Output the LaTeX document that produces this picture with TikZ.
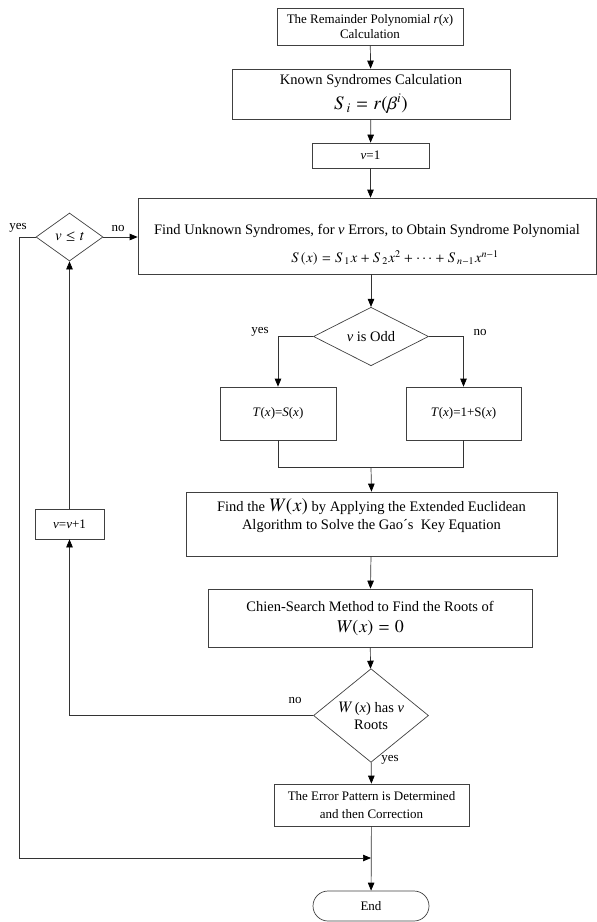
\documentclass[tikz,border=0pt]{standalone}
\usepackage{amsmath,txfonts}
\usepackage[no-math]{fontspec}
\setmainfont{Liberation Serif}
\usetikzlibrary{shapes.geometric,arrows.meta}

\newcommand{\smallfnt}{\fontsize{13}{15}\selectfont}
\newcommand{\bigfnt}{\fontsize{14.5}{18}\selectfont}

\begin{document}
\begin{tikzpicture}[x=1pt,y=-1pt,line width=0.7pt,
    box/.style={draw=black!75,rectangle,inner sep=2pt,align=center},
    decide/.style={draw=black!75,diamond,inner sep=0pt,align=center},
    lbl/.style={font=\smallfnt,inner sep=1pt},
    arr/.style={draw=black!80,-{Triangle[length=8pt,width=6.5pt,color=black]}},
    ln/.style={draw=black!80}]
  \useasboundingbox (0,0) rectangle (597,922);

  % main column
  \node[box,minimum width=186pt,minimum height=37pt,font=\smallfnt] (rem) at (370,26.5)
    {The Remainder Polynomial \textit{r}(\textit{x})\\Calculation};
  \node[box,minimum width=278pt,minimum height=50pt,font=\bigfnt] (known) at (371,94)
    {Known Syndromes Calculation\\[5pt]{\fontsize{19}{20}\selectfont $S_i=r(\beta^i)$}};
  \node[box,minimum width=117pt,minimum height=25pt,font=\smallfnt] (v1) at (370.5,155.5) {\textit{v}=1};
  \node[box,minimum width=458pt,minimum height=76pt] (find) at (367,236) {};
  \node[font=\bigfnt,align=center] (findtxt) at (367,245)
    {Find Unknown Syndromes, for \textit{v} Errors, to Obtain Syndrome Polynomial\\[10pt]
     \hspace*{56pt}$S(x)=S_1x+S_2x^2+\cdots+S_{n-1}x^{n-1}$};
  \node[decide,minimum width=115pt,minimum height=51pt,font=\bigfnt] (odd) at (371,336.5) {\textit{v} is Odd};
  \node[box,minimum width=116pt,minimum height=53pt,font=\smallfnt] (tleft) at (278,413.5)
    {\textit{T}(\textit{x})=\textit{S}(\textit{x})};
  \node[box,minimum width=115pt,minimum height=53pt,font=\smallfnt] (tright) at (463.5,413.5)
    {\textit{T}(\textit{x})=1+S(\textit{x})};
  \coordinate (merge) at (371,467);
  \node[box,minimum width=371pt,minimum height=64pt] (wbox) at (371.5,524) {};
  \node[font=\bigfnt,align=center] (wtxt) at (371.5,516)
    {Find the {\fontsize{19}{20}\selectfont$W(x)$} by Applying the Extended Euclidean\\
     Algorithm to Solve the Gao´s\ \ Key Equation};
  \node[box,minimum width=324pt,minimum height=58pt,font=\bigfnt] (chien) at (370,618)
    {Chien-Search Method to Find the Roots of\\[3pt]{\fontsize{18}{20}\selectfont $W(x)=0$}};
  \node[decide,minimum width=115pt,minimum height=57pt,font=\fontsize{14.5}{17}\selectfont] (roots) at (371,715.5)
    {{\fontsize{16}{16}\selectfont$W$}\,(\textit{x}) has \textit{v}\\Roots};
  \node[box,minimum width=195pt,minimum height=42pt,font=\fontsize{13}{18}\selectfont] (err) at (371.5,805)
    {The Error Pattern is Determined\\and then Correction};
  \node[box,rounded corners=15pt,minimum width=116pt,minimum height=30pt,font=\smallfnt] (end) at (371,906) {End};
  \coordinate (join) at (371,858);

  % loop on the left
  \node[decide,minimum width=67pt,minimum height=48pt] (vlet) at (69.5,237)
    {{\fontsize{15}{15}\selectfont $v\le t$}};
  \node[box,minimum width=69pt,minimum height=30pt,font=\smallfnt] (inc) at (69.5,524) {\textit{v}=\textit{v}+1};
  \coordinate (loopx) at (19,858);

  % labels
  \node[lbl] (vletyes) at (18,228) {yes};
  \node[lbl] (vletno) at (118,228) {no};
  \node[lbl] (oddyes) at (260,332) {yes};
  \node[lbl] (oddno) at (480,332) {no};
  \node[lbl] (rootsno) at (295,700) {no};
  \node[lbl] (rootsyes) at (390,760) {yes};

  % connectors
  \draw[arr] (rem) -- (known);
  \draw[arr] (known) -- (v1);
  \draw[arr] (v1.south) -- (v1.south |- find.north);
  \draw[arr] (find.south -| odd) -- (odd);
  \draw[arr] (odd.west) -| (tleft.north);
  \draw[arr] (odd.east) -| (tright.north);
  \draw[ln] (tleft.south) -- (tleft.south |- merge) -- (tright.south |- merge) -- (tright.south);
  \draw[arr] (merge) -- (wbox.north);
  \draw[arr] (wbox) -- (chien);
  \draw[arr] (chien) -- (roots);
  \draw[arr] (roots) -- (err);
  \draw[arr] (err) -- (end);
  \draw[arr] (roots.west) -| (inc.south);
  \draw[arr] (inc) -- (vlet);
  \draw[arr] (vlet.east) -- (vlet.east -| find.west);
  \draw[arr] (vlet.west) -| (loopx) -- (join);
\end{tikzpicture}
\end{document}
